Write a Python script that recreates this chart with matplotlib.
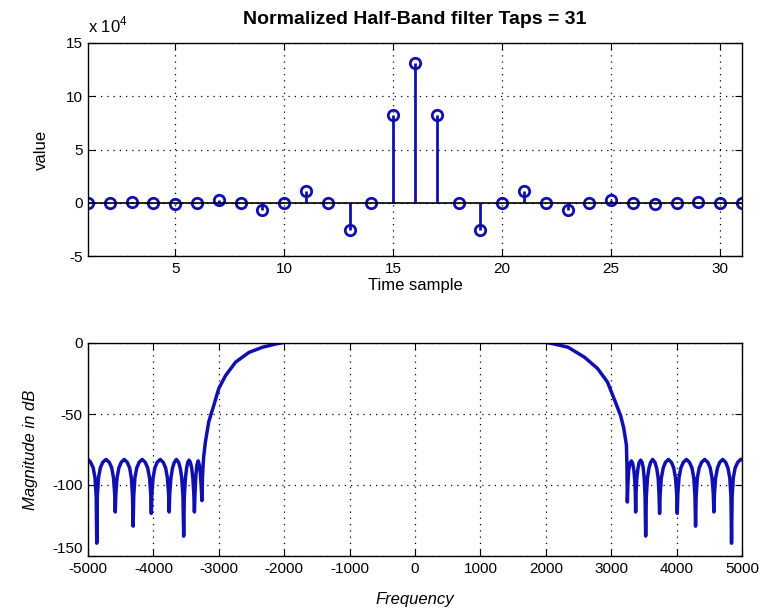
import numpy as np
import matplotlib
matplotlib.use("Agg")
import matplotlib.pyplot as plt
from matplotlib.ticker import FuncFormatter

plt.rcParams['font.family'] = ['Liberation Sans', 'DejaVu Sans']
plt.rcParams['mathtext.fontset'] = 'custom'
plt.rcParams['mathtext.rm'] = 'Liberation Sans'
plt.rcParams['axes.unicode_minus'] = False

# ------------------------------------------------------------------------------
# filter taps
tap_index = list(range(1, 32))
tap_value = [0, 0, 400, 0, -1500, 0, 2800, 0, -6900, 0, 11300, 0, -25800, 0, 82500,
             131000,
             82500, 0, -25800, 0, 11300, 0, -6900, 0, 2800, 0, -1500, 0, 400, 0, 0]

# magnitude response, Hz / dB
freq_hz = [-5000, -4960, -4920, -4893, -4875, -4866, -4857, -4840, -4812, -4775,
           -4725, -4675, -4637, -4610, -4592, -4583, -4574, -4556, -4528, -4492,
           -4447, -4400, -4363, -4337, -4319, -4310, -4301, -4283, -4255, -4218,
           -4171, -4125, -4087, -4059, -4041, -4032, -4023, -4005, -3978, -3942,
           -3896, -3850, -3813, -3786, -3768, -3759, -3750, -3732, -3708, -3680,
           -3648, -3615, -3590, -3567, -3548, -3537, -3527, -3510, -3492, -3475,
           -3455, -3435, -3415, -3397, -3382, -3373, -3364, -3350, -3335, -3315,
           -3298, -3282, -3268, -3258, -3250, -3240, -3231, -3206, -3154, -3077,
           -3000, -2897, -2744, -2538, -2333, -2129, -2050, -1900, -1500, 0,
           1500, 1900, 2050, 2090, 2341, 2591, 2792, 2943, 3042, 3143,
           3192, 3233, 3240, 3247, 3255, 3266, 3285, 3310, 3330, 3348,
           3362, 3369, 3374, 3379, 3392, 3410, 3428, 3450, 3472, 3490,
           3505, 3518, 3527, 3537, 3555, 3578, 3603, 3633, 3668, 3695,
           3718, 3731, 3740, 3749, 3767, 3795, 3830, 3875, 3920, 3956,
           3983, 4001, 4010, 4019, 4037, 4065, 4103, 4150, 4197, 4235,
           4263, 4281, 4290, 4299, 4317, 4345, 4382, 4430, 4477, 4514,
           4542, 4561, 4570, 4579, 4597, 4625, 4660, 4705, 4750, 4785,
           4813, 4831, 4840, 4849, 4867, 4895, 4935, 4980, 5000]
mag_db = [-82, -84, -88, -95, -108, -141, -108, -95, -88, -84,
          -82, -84, -88, -95, -106, -119, -106, -95, -88, -84,
          -82, -84, -88, -95, -108, -129, -108, -95, -88, -84,
          -82, -84, -88, -95, -106, -120, -106, -95, -88, -84,
          -82, -84, -88, -95, -106, -119, -106, -95, -88, -84,
          -82, -84, -88, -95, -108, -136, -108, -95, -88, -84,
          -82.5, -84, -88, -95, -106, -119, -106, -93, -86, -83,
          -86, -92, -102, -111, -95, -86, -80, -70, -55.5, -44,
          -32, -23, -13.5, -6.6, -3, -0.7, 0, 1.5, 2.5, 3,
          2.5, 1.5, 0, -0.3, -3, -10, -18, -27.5, -39, -51,
          -60, -72, -85, -112, -100, -90, -85, -83, -85, -90,
          -98, -106, -119, -106, -95, -88, -84, -82.5, -84, -88,
          -95, -108, -136, -108, -95, -88, -84, -82, -84, -88,
          -95, -106, -120, -106, -95, -88, -84, -82, -84, -88,
          -95, -106, -120, -106, -95, -88, -84, -82, -84, -88,
          -95, -108, -129, -108, -95, -88, -84, -82, -84, -88,
          -95, -106, -119, -106, -95, -88, -84, -82, -84, -88,
          -95, -108, -141, -108, -95, -88, -84, -82, -82]

blue = '#1010b0'
W, H = 762, 610


def matlab_axes(ax):
	ax.tick_params(direction='in', top=True, right=True, length=5, width=0.8,
	               labelsize=11, pad=4)
	for sp in ax.spines.values():
		sp.set_linewidth(1.0)
	ax.grid(True, color='k', linestyle=(0, (1, 4)), linewidth=0.9)
	ax.set_axisbelow(True)


# ------------------------------------------------------------------------------
fig = plt.figure(figsize=(W / 100, H / 100), dpi=100)

ax1 = fig.add_axes([88 / W, 1 - 256 / H, 654 / W, 213 / H])
markerline, stemlines, baseline = ax1.stem(tap_index, tap_value, basefmt='k-')
plt.setp(markerline, marker='o', markersize=7.5, markerfacecolor='none',
         markeredgecolor=blue, markeredgewidth=2.0)
plt.setp(stemlines, color=blue, linewidth=2.0)
plt.setp(baseline, color='k', linewidth=1.2)
ax1.set_xlim(1, 31)
ax1.set_ylim(-50000, 150000)
ax1.set_xticks([5, 10, 15, 20, 25, 30])
ax1.set_yticks([-50000, 0, 50000, 100000, 150000])
ax1.yaxis.set_major_formatter(FuncFormatter(lambda v, p: '%g' % (v / 1e4)))
matlab_axes(ax1)
ax1.set_title('Normalized Half-Band filter Taps = 31', fontsize=14,
              fontweight='bold', pad=14)
ax1.set_xlabel('Time sample', fontsize=12, labelpad=2)
ax1.set_ylabel('value', fontsize=12, labelpad=12)
ax1.text(0, 1.035, r'x 10$^{4}$', transform=ax1.transAxes, fontsize=12,
         ha='left', va='bottom')

ax2 = fig.add_axes([88 / W, 1 - 556 / H, 654 / W, 213 / H])
ax2.plot(freq_hz, mag_db, color=blue, linewidth=2.5)
ax2.set_xlim(-5000, 5000)
ax2.set_ylim(-150, 0)
ax2.set_xticks(range(-5000, 5001, 1000))
ax2.set_yticks([-150, -100, -50, 0])
ax2.get_yticklabels()
matlab_axes(ax2)
for lab in ax2.get_yticklabels():
	if lab.get_text() == '-150':
		lab.set_va('bottom')
ax2.set_xlabel('Frequency', fontsize=12, style='italic', labelpad=12)
ax2.set_ylabel('Magnitude in dB', fontsize=12, style='italic', labelpad=10)

fig.savefig('out.png', dpi=100)
